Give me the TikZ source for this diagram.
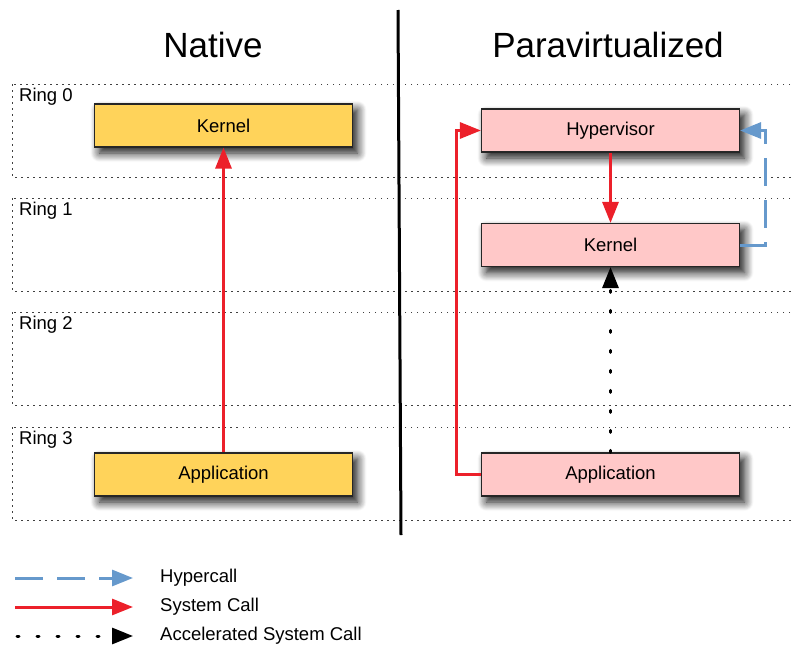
\documentclass[tikz,border=0pt]{standalone}
\usepackage{fontspec}
\setmainfont{Liberation Sans}
\usetikzlibrary{arrows.meta,shadows.blur}
\definecolor{boxyellow}{RGB}{255,211,90}
\definecolor{boxpink}{RGB}{255,200,200}
\definecolor{callred}{RGB}{236,32,42}
\definecolor{hyperblue}{RGB}{102,153,204}
\begin{document}
\begin{tikzpicture}[x=1pt,y=-1pt,
  ringband/.style={draw=black!75, line width=0.9pt, dash pattern=on 1.5pt off 4.5pt},
  ringlabel/.style={anchor=north west, inner sep=0pt, font=\fontsize{18.5}{20}\selectfont},
  layerbox/.style={draw=black!85, line width=1.1pt, minimum width=258pt, minimum height=43pt,
    inner sep=0pt, font=\fontsize{18.5}{20}\selectfont,
    blur shadow={shadow xshift=5pt, shadow yshift=-6pt, shadow blur radius=9pt,
      shadow blur steps=12, shadow opacity=95}},
  nativebox/.style={layerbox, fill=boxyellow},
  parabox/.style={layerbox, fill=boxpink},
  heading/.style={font=\fontsize{35}{40}\selectfont, inner sep=0pt},
  legendtext/.style={anchor=west, inner sep=0pt, font=\fontsize{18.5}{20}\selectfont},
  syscall/.style={draw=callred, line width=3pt, -{Triangle[length=21pt,width=16pt]}},
  hypercall/.style={draw=hyperblue, line width=3pt, dash pattern=on 28pt off 14pt,
    -{Triangle[length=21pt,width=16pt]}},
  accelcall/.style={draw=black, line width=3pt, line cap=round, dash pattern=on 2pt off 18pt,
    -{Triangle[length=21pt,width=16pt]}},
]
\useasboundingbox (0,0) rectangle (793,648);
\clip (0,0) rectangle (793,648);

% privilege rings
\foreach \top/\r in {84/0, 198/1, 312/2, 427/3}{
  \draw[ringband] (12,\top) rectangle (800,\top+93);
  \node[ringlabel] (ring\r) at (19,\top+4) {Ring \r};
}

% headings and divider
\node[heading] (ttlnative) at (213,45) {Native};
\node[heading] (ttlpara) at (608,45) {Paravirtualized};
\coordinate (divtop) at (398,10);
\coordinate (divbot) at (401,535);
\draw[line width=3pt] (divtop) -- (divbot);

% native stack
\node[nativebox] (nkernel) at (223.5,125.5) {Kernel};
\node[nativebox] (napp) at (223.5,474.5) {Application};

% paravirtualized stack
\node[parabox] (hyper) at (610.5,130.5) {Hypervisor};
\node[parabox] (pkernel) at (610.5,245) {Kernel};
\node[parabox] (papp) at (610.5,474.5) {Application};

% calls
\draw[syscall] (papp.west) -| (456,300) |- (hyper.west);
\draw[syscall] (napp.north) -- (nkernel.south);
\draw[syscall] (hyper.south) -- (pkernel.north);
\draw[hypercall] (pkernel.east) -| (765,190) |- (hyper.east);
\draw[accelcall] (papp.north) -- (pkernel.south);

% legend
\coordinate (lg1a) at (15,578);  \coordinate (lg1b) at (133,578);
\coordinate (lg2a) at (15,607);  \coordinate (lg2b) at (133,607);
\coordinate (lg3a) at (17,636);  \coordinate (lg3b) at (133,636);
\draw[hypercall] (lg1a) -- (lg1b);
\draw[syscall] (lg2a) -- (lg2b);
\draw[accelcall] (lg3a) -- (lg3b);
\node[legendtext] (lgt1) at (160,578) {Hypercall};
\node[legendtext] (lgt2) at (160,607) {System Call};
\node[legendtext] (lgt3) at (160,636) {Accelerated System Call};
\end{tikzpicture}
\end{document}
